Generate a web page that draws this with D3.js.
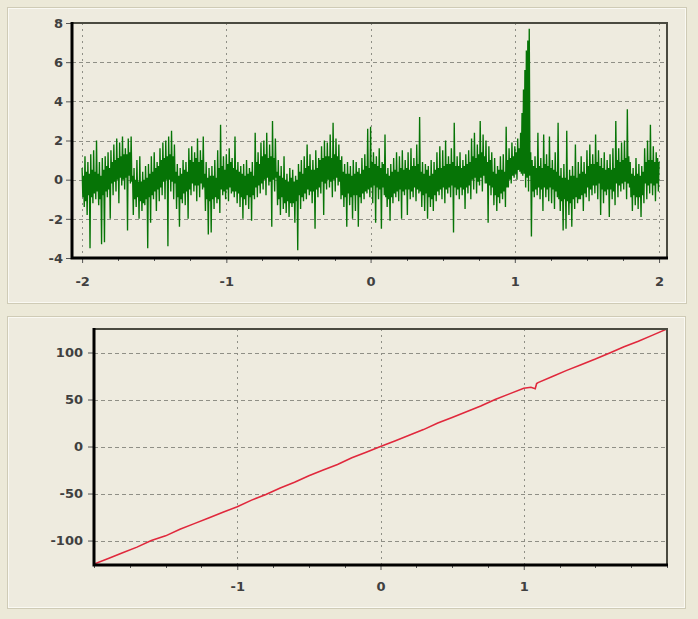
<!DOCTYPE html>
<html>
<head>
<meta charset="utf-8">
<script src="https://cdn.jsdelivr.net/npm/d3@7"></script>
<style>
    body { margin: 0; background: #ece9d8; }
    svg { display: block; }
    .tick text { font-family: "DejaVu Sans", Verdana, sans-serif; font-size: 13px; font-weight: bold; fill: #404040; }
</style>
</head>
<body>
<svg id="chart" width="698" height="619"></svg>
<script>

    // top panel: sampled signal, first sample at x = -2, one sample every 0.005
    const sigStart = -2;
    const sigStep = 0.005;
    const sigValues = [
        0.6, -0.9, 0.2, -1.4, 1.2, -1.1, 0.4, -1.8, 0.9, -0.8,
        0.3, -3.5, 1.3, -0.9, 0.5, -1.2, 1.5, -0.7, 0.4, -1.0,
        2.0, -0.6, 0.3, -1.3, 0.9, -1.0, 0.2, -3.3, 1.1, -0.8,
        0.5, -3.2, 1.2, -0.6, 0.7, -0.9, 1.4, -0.5, 0.6, -2.0,
        1.5, -0.2, 0.9, -0.8, 1.8, -0.1, 1.0, -0.6, 2.1, 0.0,
        1.1, -1.2, 1.9, 0.1, 1.2, -0.3, 2.2, 0.0, 1.3, -0.5,
        1.6, 0.1, 1.3, -2.6, 2.1, 0.2, 1.4, -0.2, 2.2, -0.1,
        0.2, -1.8, 0.6, -1.0, 0.0, -1.4, 1.0, -0.9, -0.1, -2.0,
        1.2, -1.1, -0.1, -1.6, 0.4, -1.2, 0.0, -1.3, 0.7, -1.0,
        0.1, -3.5, 0.8, -0.9, 0.3, -2.2, 1.2, -0.8, 0.4, -1.0,
        1.4, -0.6, 0.6, -1.6, 0.9, -0.5, 0.7, -1.1, 1.6, -0.4,
        1.0, -0.8, 1.9, -0.1, 1.1, -1.0, 2.0, 0.0, 1.2, -3.4,
        2.2, 0.0, 1.3, -0.6, 2.5, -0.1, 1.2, -1.0, 1.8, -0.2,
        0.4, -1.5, 0.8, -0.9, 0.2, -2.4, 0.6, -1.0, 0.3, -1.2,
        1.0, -0.7, 0.5, -1.3, 0.9, -0.6, 0.4, -2.0, 1.6, -0.5,
        1.0, -0.8, 1.7, -0.2, 0.9, -0.6, 1.4, -0.3, 1.1, -1.1,
        2.1, -0.3, 0.9, -0.9, 1.5, -0.2, 1.0, -0.5, 2.2, -0.4,
        0.3, -1.6, 0.9, -1.0, 0.1, -2.8, 0.6, -1.1, 0.2, -2.7,
        0.7, -1.0, 0.2, -1.5, 1.0, -0.9, 0.1, -1.2, 1.5, -1.0,
        0.6, -1.7, 2.8, -0.5, 0.7, -0.8, 1.2, -0.6, 0.5, -1.0,
        1.3, -0.5, 0.8, -1.1, 1.6, -0.4, 0.9, -0.7, 1.1, -0.6,
        0.6, -0.9, 2.2, -0.6, 0.5, -1.2, 0.9, -0.7, 0.4, -1.4,
        0.7, -0.9, 0.3, -2.0, 0.8, -1.0, 0.2, -1.3, 1.0, -0.8,
        0.3, -1.5, 0.6, -0.9, 0.4, -2.1, 0.9, -0.8, 0.2, -1.0,
        2.4, -0.4, 0.9, -0.9, 1.4, -0.3, 0.8, -0.7, 1.9, -0.2,
        1.2, -0.5, 2.0, 0.0, 1.3, -0.8, 2.4, 0.1, 1.1, -0.3,
        1.8, -0.1, 1.2, -2.4, 3.0, 0.0, 1.1, -0.6, 2.1, 0.1,
        0.4, -1.3, 1.0, -1.0, 0.2, -1.8, 0.7, -0.9, 0.1, -1.5,
        1.2, -1.2, 0.0, -1.7, 0.3, -1.1, -0.1, -1.9, 0.6, -1.2,
        0.1, -1.4, 0.5, -1.2, -0.1, -2.2, 0.2, -1.1, 0.0, -3.6,
        0.8, -0.8, 0.4, -1.5, 1.0, -0.9, 0.3, -1.1, 1.2, -0.7,
        0.6, -1.0, 1.8, -0.5, 0.7, -0.8, 1.3, -0.6, 0.5, -1.2,
        1.0, -0.6, 0.5, -2.5, 1.5, -0.5, 0.6, -0.9, 1.1, -0.4,
        1.0, -0.7, 1.7, -0.1, 1.1, -1.8, 2.0, -0.2, 1.2, -0.5,
        1.9, 0.0, 1.2, -0.4, 2.3, -0.1, 1.1, -0.9, 2.9, 0.0,
        1.3, -0.6, 2.1, 0.1, 1.2, -0.3, 1.8, -0.1, 1.0, -1.0,
        1.2, -0.8, 0.4, -1.4, 0.8, -0.9, 0.3, -2.4, 0.9, -0.7,
        0.3, -1.3, 0.7, -0.9, 0.2, -2.0, 1.0, -0.8, 0.3, -1.6,
        0.9, -0.8, 0.4, -2.4, 0.6, -0.9, 0.3, -1.2, 1.1, -0.7,
        0.5, -1.0, 1.3, -0.6, 0.7, -0.7, 2.6, -0.5, 0.6, -0.9,
        2.7, -0.4, 0.9, -1.2, 1.4, -0.3, 0.8, -2.2, 1.2, -0.4,
        0.7, -1.0, 1.6, -0.5, 0.6, -2.5, 0.9, -0.4, 0.8, -0.8,
        2.3, -0.9, 0.3, -1.4, 0.6, -1.0, 0.2, -2.1, 0.8, -0.9,
        0.4, -1.2, 1.1, -0.7, 0.5, -0.9, 1.4, -0.6, 0.4, -1.1,
        1.2, -0.5, 0.6, -2.0, 1.5, -0.6, 0.5, -0.8, 1.0, -0.5,
        0.6, -1.8, 1.4, -0.5, 0.5, -1.0, 1.6, -0.6, 0.7, -0.9,
        1.1, -0.4, 0.7, -1.1, 1.8, -0.5, 0.8, -0.7, 3.2, -0.6,
        0.4, -1.4, 0.9, -0.8, 0.3, -1.6, 0.8, -0.7, 0.5, -2.0,
        0.7, -0.9, 0.2, -1.4, 1.0, -1.0, 0.3, -1.6, 0.9, -0.8,
        0.5, -1.1, 1.4, -0.6, 0.6, -0.8, 1.7, -0.5, 0.6, -1.0,
        1.5, -0.4, 0.7, -1.2, 2.0, -0.5, 0.8, -0.7, 1.2, -0.4,
        0.8, -0.9, 1.6, -0.3, 0.9, -2.7, 2.9, -0.4, 0.7, -0.8,
        1.2, -0.5, 0.7, -1.0, 1.4, -0.4, 0.6, -0.8, 1.0, -0.5,
        0.7, -1.5, 1.3, -0.4, 0.8, -0.7, 1.5, -0.3, 0.9, -1.0,
        2.1, 0.0, 1.2, -0.5, 2.4, 0.1, 1.1, -0.7, 1.8, -0.1,
        1.3, -0.3, 3.0, 0.1, 1.4, -0.6, 2.3, 0.2, 1.2, -0.2,
        2.0, -0.2, 0.9, -2.2, 1.7, -0.3, 1.0, -0.8, 1.4, -0.4,
        0.4, -1.3, 1.1, -0.8, 0.3, -1.6, 0.7, -0.9, 0.5, -1.2,
        1.2, -0.7, 0.5, -1.0, 1.3, -0.6, 0.4, -1.4, 2.7, -0.4,
        1.0, -0.4, 1.6, 0.0, 1.1, -0.2, 1.9, 0.2, 1.2, 0.1,
        1.7, 0.3, 1.4, 0.0, 2.1, 0.5, 1.6, 0.4, 2.4, 0.3,
        3.4, 0.2, 4.6, 0.3, 5.6, -0.4, 6.6, 0.1, 7.1, -0.6,
        7.7, 0.2, 1.4, -2.9, 1.0, -0.6, 0.7, -0.9, 1.2, -0.5,
        0.6, -0.8, 2.4, -0.4, 0.7, -1.0, 1.1, -0.5, 0.6, -1.6,
        2.3, -0.4, 0.8, -0.9, 1.3, -0.5, 0.7, -1.1, 2.2, -0.4,
        0.6, -1.2, 1.0, -0.5, 0.5, -1.5, 1.4, -0.6, 0.4, -0.9,
        2.9, -1.0, 0.2, -1.6, 0.6, -1.1, 0.1, -2.6, 0.8, -1.0,
        0.1, -2.5, 2.5, -1.1, 0.0, -1.8, 0.5, -1.2, 0.2, -2.4,
        0.7, -1.0, 0.2, -1.5, 1.8, -0.9, 0.1, -1.2, 0.9, -1.0,
        0.3, -1.0, 1.2, -0.8, 0.4, -1.6, 0.9, -0.7, 0.3, -0.9,
        1.5, -0.4, 0.7, -1.1, 1.8, -0.5, 0.8, -0.8, 1.3, -0.3,
        0.8, -0.7, 2.3, -0.3, 0.9, -1.0, 1.5, -0.2, 0.7, -1.8,
        1.1, -0.5, 0.6, -1.2, 1.4, -0.6, 0.5, -0.8, 1.0, -0.5,
        0.6, -1.9, 1.3, -0.5, 0.5, -1.0, 1.6, -0.6, 0.6, -1.3,
        3.0, -0.2, 1.0, -0.9, 1.6, -0.3, 0.9, -0.6, 1.9, -0.2,
        1.0, -0.5, 2.0, -0.1, 1.1, -1.0, 3.6, -0.2, 1.2, -0.4,
        0.9, -0.9, 0.3, -1.6, 0.6, -0.8, 0.2, -1.3, 1.1, -0.9,
        0.3, -1.5, 0.8, -0.9, 0.2, -1.9, 0.7, -0.8, 0.4, -1.2,
        1.6, -0.2, 0.9, -1.0, 2.0, -0.3, 1.0, -0.7, 2.8, -0.2,
        1.0, -0.8, 1.7, -0.3, 0.9, -1.1, 1.4, -0.2, 1.1, -0.6,
        0.9
    ];

    // bottom panel: running value
    const runX = [-2.0, -1.9, -1.8, -1.7, -1.6, -1.5, -1.4, -1.3, -1.2, -1.1,
        -1.0, -0.9, -0.8, -0.7, -0.6, -0.5, -0.4, -0.3, -0.2, -0.1,
        0.0, 0.1, 0.2, 0.3, 0.4, 0.5, 0.6, 0.7, 0.8, 0.9,
        1.0, 1.05, 1.08, 1.09, 1.1, 1.2, 1.3, 1.4, 1.5, 1.6,
        1.7, 1.8, 1.9, 2.0];
    const runY = [-125, -119, -113, -107, -100, -95, -88, -82, -76, -70,
        -64, -57, -51, -44, -38, -31, -25, -19, -12, -6,
        0, 6, 12, 18, 25, 31, 37, 43, 50, 56,
        62, 63, 61.5, 67, 68, 74.5, 81, 87, 93, 99.5,
        106, 112, 118.5, 125];

    const topTicks = [-4, -2, 0, 2, 4, 6, 8];
    const topXTicks = [-2, -1, 0, 1, 2];
    const botTicks = [-100, -50, 0, 50, 100];
    const botXTicks = [-1, 0, 1];

    const svg = d3.select("#chart");

    // group boxes
    const boxes = [[7, 7, 679, 296], [7, 316, 678, 292]];
    boxes.forEach(b => {
        svg.append("rect").attr("x", b[0] + 0.5).attr("y", b[1] + 0.5)
            .attr("width", b[2]).attr("height", b[3])
            .attr("fill", "#eeebdf").attr("stroke", "#cfcbb6");
        svg.append("rect").attr("x", b[0] + 1.5).attr("y", b[1] + 1.5)
            .attr("width", b[2] - 2).attr("height", b[3] - 2)
            .attr("fill", "none").attr("stroke", "#faf9f3");
    });

    function drawPanel(opt) {
        const g = svg.append("g");
        const x = d3.scaleLinear().domain(opt.xDomain).range([opt.left, opt.right]);
        const y = d3.scaleLinear().domain(opt.yDomain).range([opt.bottom, opt.top]);

        const clipId = "clip" + opt.id;
        svg.append("clipPath").attr("id", clipId).append("rect")
            .attr("x", opt.left).attr("y", opt.top)
            .attr("width", opt.right - opt.left).attr("height", opt.bottom - opt.top);

        // grid
        g.selectAll(".hg").data(opt.yTicks).enter().append("line")
            .attr("x1", opt.left).attr("x2", opt.right)
            .attr("y1", d => Math.round(y(d)) + 0.5).attr("y2", d => Math.round(y(d)) + 0.5)
            .attr("stroke", "#8f8f86").attr("stroke-dasharray", "4,3");
        g.selectAll(".vg").data(opt.xTicks).enter().append("line")
            .attr("y1", opt.top).attr("y2", opt.bottom)
            .attr("x1", d => Math.round(x(d)) + 0.5).attr("x2", d => Math.round(x(d)) + 0.5)
            .attr("stroke", "#8f8f86").attr("stroke-dasharray", "2,4");

        // data
        g.append("path").datum(opt.data)
            .attr("clip-path", `url(#${clipId})`)
            .attr("fill", "none")
            .attr("stroke", opt.color)
            .attr("stroke-width", opt.width)
            .attr("d", d3.line().x(d => x(d[0])).y(d => y(d[1])));

        // axes
        const yAxis = g.append("g").attr("transform", `translate(${opt.left},0)`)
            .call(d3.axisLeft(y).tickValues(opt.yTicks).tickSize(6).tickPadding(opt.yPad).tickFormat(d3.format("d")));
        const xAxis = g.append("g").attr("transform", `translate(0,${opt.bottom})`)
            .call(d3.axisBottom(x).tickValues(opt.xTicks).tickSize(5).tickPadding(opt.xPad).tickFormat(d3.format("d")));
        [yAxis, xAxis].forEach(a => {
            a.select(".domain").remove();
            a.selectAll(".tick line").attr("stroke", "#555");
            a.selectAll(".tick text").text(d => String(d));
        });

        // minor ticks on x
        const minor = d3.range(Math.ceil(opt.xDomain[0] * 4), Math.floor(opt.xDomain[1] * 4) + 1).map(k => k / 4)
            .filter(v => !opt.xTicks.includes(v));
        g.selectAll(".mt").data(minor).enter().append("line")
            .attr("x1", d => Math.round(x(d)) + 0.5).attr("x2", d => Math.round(x(d)) + 0.5)
            .attr("y1", opt.bottom).attr("y2", opt.bottom + 3)
            .attr("stroke", "#555");

        // frame
        g.append("rect").attr("x", opt.left).attr("y", opt.top)
            .attr("width", opt.right - opt.left).attr("height", opt.bottom - opt.top)
            .attr("fill", "none").attr("stroke", "#4a4a40").attr("stroke-width", 2);
        g.append("path")
            .attr("d", `M${opt.left},${opt.top - 1}V${opt.bottom}H${opt.right + 1}`)
            .attr("fill", "none").attr("stroke", "#000").attr("stroke-width", 3);
    }

    drawPanel({
        id: 1, left: 72, right: 667, top: 23, bottom: 258,
        xDomain: [-2.07, 2.055], yDomain: [-4, 8],
        xTicks: topXTicks, yTicks: topTicks, xPad: 14, yPad: 3,
        data: sigValues.map((v, i) => [sigStart + i * sigStep, v]),
        color: "#067406", width: 1.35
    });

    drawPanel({
        id: 2, left: 94, right: 667, top: 329, bottom: 565,
        xDomain: [-2, 2], yDomain: [-126, 125],
        xTicks: botXTicks, yTicks: botTicks, xPad: 12, yPad: 5,
        data: runX.map((v, i) => [v, runY[i]]),
        color: "#e0283c", width: 1.6
    });

</script>
</body>
</html>
